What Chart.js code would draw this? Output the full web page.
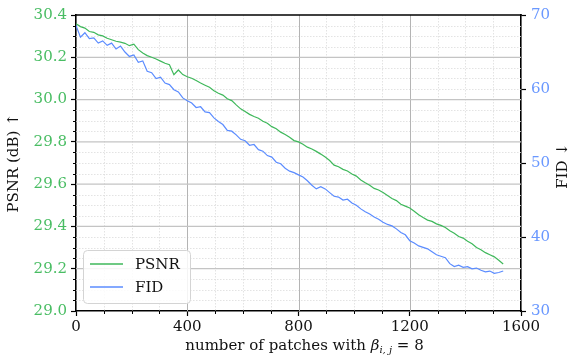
<!DOCTYPE html>
<html><head><meta charset="utf-8">
<script src="https://cdn.jsdelivr.net/npm/chart.js@4"></script>
<style>html,body{margin:0;padding:0;background:#fff}#wrap{width:571px;height:355px;position:relative}</style>
</head><body><div id="wrap"><canvas id="c" width="571" height="355"></canvas></div>
<script>
const patches = [
  0,16,32,48,64,80,96,112,
  128,144,160,176,192,208,224,240,
  256,272,288,304,320,336,352,368,
  384,400,416,432,448,464,480,496,
  512,528,544,560,576,592,608,624,
  640,656,672,688,704,720,736,752,
  768,784,800,816,832,848,864,880,
  896,912,928,944,960,976,992,1008,
  1024,1040,1056,1072,1088,1104,1120,1136,
  1152,1168,1184,1200,1216,1232,1248,1264,
  1280,1296,1312,1328,1344,1360,1376,1392,
  1408,1424,1440,1456,1472,1488,1504,1520,
  1536
];
const psnrValues = [
  30.358,30.345,30.338,30.322,30.318,30.306,30.301,30.290,
  30.283,30.276,30.272,30.266,30.255,30.262,30.236,30.220,
  30.208,30.200,30.192,30.182,30.172,30.165,30.118,30.140,
  30.118,30.108,30.101,30.090,30.078,30.068,30.058,30.042,
  30.030,30.021,30.004,29.995,29.975,29.956,29.944,29.930,
  29.920,29.912,29.897,29.888,29.872,29.862,29.846,29.835,
  29.822,29.806,29.800,29.789,29.775,29.766,29.755,29.742,
  29.728,29.712,29.690,29.682,29.670,29.662,29.648,29.638,
  29.620,29.607,29.595,29.580,29.572,29.560,29.546,29.532,
  29.522,29.505,29.496,29.487,29.472,29.455,29.442,29.430,
  29.424,29.412,29.405,29.395,29.380,29.368,29.352,29.345,
  29.330,29.318,29.300,29.290,29.276,29.266,29.256,29.240,
  29.222
];
const fidValues = [
  68.6,67.0,67.6,66.8,66.9,66.2,66.5,65.9,
  66.2,65.4,65.8,65.0,64.4,64.6,63.6,63.8,
  62.4,62.2,61.4,61.6,60.8,60.6,59.9,59.6,
  58.8,58.4,58.1,57.5,57.6,56.9,56.8,56.1,
  55.6,55.2,54.4,54.3,53.8,53.2,53.0,52.4,
  52.5,51.8,51.6,51.0,50.8,50.1,49.9,49.3,
  48.9,48.7,48.4,48.1,47.6,47.0,46.5,46.8,
  46.5,46.0,45.5,45.4,45.0,45.1,44.6,44.3,
  43.8,43.4,43.1,42.7,42.4,42.0,41.7,41.5,
  41.1,40.6,40.3,39.5,39.2,38.8,38.6,38.4,
  38.0,37.6,37.4,37.2,36.4,36.0,36.2,35.9,
  36.0,35.7,35.8,35.5,35.3,35.4,35.1,35.2,
  35.4
];
const xTicks = [0,400,800,1200,1600];
const xMinorTicks = [100,200,300,500,600,700,900,1000,1100,1300,1400,1500];
const psnrTicks = [29.0,29.2,29.4,29.6,29.8,30.0,30.2,30.4];
const psnrMinorTicks = [29.05,29.1,29.15,29.25,29.3,29.35,29.45,29.5,29.55,29.65,29.7,29.75,29.85,29.9,29.95,30.05,30.1,30.15,30.25,30.3,30.35];
const fidTicks = [30,40,50,60,70];
const seriesNames = ['PSNR','FID'];

const GREEN = '#3fb85b';
const BLUE = '#5b8cff';
const GREEN_TXT = '#49bd63';
const BLUE_TXT = '#6a98ff';
const SERIF = '"DejaVu Serif", serif';

const gridPlugin = {
  id: 'gridPlugin',
  beforeDatasetsDraw(chart) {
    const {ctx, chartArea: a, scales} = chart;
    const xs = scales.x, ys = scales.y;
    ctx.save();
    ctx.lineWidth = 0.8;
    ctx.strokeStyle = '#dcdcdc';
    ctx.setLineDash([1.5, 1.5]);
    xMinorTicks.forEach(v => {
      const p = Math.round(xs.getPixelForValue(v)) + 0.5;
      ctx.beginPath(); ctx.moveTo(p, a.top); ctx.lineTo(p, a.bottom); ctx.stroke();
    });
    psnrMinorTicks.forEach(v => {
      const p = Math.round(ys.getPixelForValue(v)) + 0.5;
      ctx.beginPath(); ctx.moveTo(a.left, p); ctx.lineTo(a.right, p); ctx.stroke();
    });
    ctx.setLineDash([]);
    ctx.strokeStyle = '#b4b4b4';
    ctx.lineWidth = 1;
    xTicks.forEach(v => {
      if (v === xTicks[0] || v === xTicks[xTicks.length-1]) return;
      const p = Math.round(xs.getPixelForValue(v)) + 0.5;
      ctx.beginPath(); ctx.moveTo(p, a.top); ctx.lineTo(p, a.bottom); ctx.stroke();
    });
    ctx.strokeStyle = '#c4c4c4';
    ctx.lineWidth = 1.3;
    psnrTicks.forEach(v => {
      if (v === psnrTicks[0] || v === psnrTicks[psnrTicks.length-1]) return;
      const p = ys.getPixelForValue(v);
      ctx.beginPath(); ctx.moveTo(a.left, p); ctx.lineTo(a.right, p); ctx.stroke();
    });
    ctx.restore();
  },
  afterDraw(chart) {
    const {ctx, chartArea: a, scales} = chart;
    const xs = scales.x, ys = scales.y;
    ctx.save();
    ctx.strokeStyle = '#000';
    ctx.lineWidth = 1;
    xMinorTicks.forEach(v => {
      const p = Math.round(xs.getPixelForValue(v)) + 0.5;
      ctx.beginPath(); ctx.moveTo(p, a.bottom); ctx.lineTo(p, a.bottom + 3); ctx.stroke();
    });
    psnrMinorTicks.forEach(v => {
      const p = Math.round(ys.getPixelForValue(v)) + 0.5;
      ctx.beginPath(); ctx.moveTo(a.left, p); ctx.lineTo(a.left - 3, p); ctx.stroke();
    });
    ctx.lineWidth = 1.6;
    ctx.beginPath(); ctx.moveTo(a.left - 0.8, a.top); ctx.lineTo(a.right + 0.8, a.top); ctx.stroke();

    const lx = a.left + 7, ly = a.bottom - 61, lw = 107, lh = 53, r = 4;
    ctx.fillStyle = 'rgba(255,255,255,0.85)';
    ctx.strokeStyle = '#d4d4d4';
    ctx.lineWidth = 1;
    ctx.beginPath();
    ctx.roundRect(lx + 0.5, ly + 0.5, lw, lh, r);
    ctx.fill(); ctx.stroke();
    ctx.font = '15px ' + SERIF;
    ctx.textBaseline = 'middle';
    ctx.textAlign = 'left';
    chart.data.datasets.forEach((ds, i) => {
      const yy = ly + 14 + i * 23;
      ctx.strokeStyle = ds.borderColor;
      ctx.lineWidth = 1.3;
      ctx.beginPath(); ctx.moveTo(lx + 7, yy); ctx.lineTo(lx + 40, yy); ctx.stroke();
      ctx.fillStyle = '#111';
      ctx.fillText(ds.label, lx + 52, yy + 1);
    });

    ctx.save();
    ctx.translate(563, (a.top + a.bottom) / 2 + 3);
    ctx.rotate(-Math.PI / 2);
    ctx.textAlign = 'center';
    ctx.textBaseline = 'middle';
    ctx.fillStyle = '#111';
    ctx.font = '15px ' + SERIF;
    ctx.fillText('FID \u2193', 0, 0);
    ctx.restore();

    const parts = [
      {t: 'number of patches with ', f: '15px ' + SERIF, dy: 0},
      {t: '\u03b2', f: 'italic 15px ' + SERIF, dy: 0},
      {t: 'i, j', f: 'italic 10px ' + SERIF, dy: 3},
      {t: ' = 8', f: '15px ' + SERIF, dy: 0}
    ];
    let total = 0;
    parts.forEach(p => { ctx.font = p.f; p.w = ctx.measureText(p.t).width; total += p.w; });
    let cx = (a.left + a.right) / 2 - total / 2 + 6;
    ctx.textAlign = 'left';
    ctx.textBaseline = 'alphabetic';
    ctx.fillStyle = '#111';
    parts.forEach(p => { ctx.font = p.f; ctx.fillText(p.t, cx, 350 + p.dy); cx += p.w; });
    ctx.restore();
  }
};

const ctx = document.getElementById('c').getContext('2d');
new Chart(ctx, {
  type: 'line',
  data: {
    datasets: [
      {label: seriesNames[0], data: patches.map((x, i) => ({x, y: psnrValues[i]})), yAxisID: 'y',
       borderColor: GREEN, backgroundColor: GREEN, borderWidth: 1.2, pointRadius: 0, tension: 0, fill: false},
      {label: seriesNames[1], data: patches.map((x, i) => ({x, y: fidValues[i]})), yAxisID: 'y1',
       borderColor: BLUE, backgroundColor: BLUE, borderWidth: 1.2, pointRadius: 0, tension: 0, fill: false}
    ]
  },
  options: {
    responsive: false,
    animation: false,
    devicePixelRatio: 1,
    layout: {padding: {top: 15, left: 0, right: 0, bottom: 0}},
    plugins: {legend: {display: false}, tooltip: {enabled: false}},
    scales: {
      x: {
        type: 'linear', min: 0, max: 1600,
        afterBuildTicks: s => { s.ticks = xTicks.map(v => ({value: v})); },
        ticks: {color: '#111', font: {family: SERIF, size: 15}, padding: 2, maxRotation: 0, autoSkip: false,
                callback: v => String(v)},
        grid: {display: true, drawOnChartArea: false, drawTicks: true, tickLength: 5, tickColor: '#000', tickWidth: 1.2},
        border: {display: true, color: '#000', width: 1.6},
        afterFit: s => { s.height = 44; }
      },
      y: {
        type: 'linear', position: 'left', min: 29.0, max: 30.4,
        afterBuildTicks: s => { s.ticks = psnrTicks.map(v => ({value: v})); },
        ticks: {color: GREEN_TXT, font: {family: SERIF, size: 15}, padding: 4, autoSkip: false,
                callback: v => Number(v).toFixed(1)},
        grid: {display: true, drawOnChartArea: false, drawTicks: true, tickLength: 5, tickColor: '#000', tickWidth: 1.2},
        border: {display: true, color: '#000', width: 1.6},
        title: {display: true, text: 'PSNR (dB) \u2191', color: '#111', font: {family: SERIF, size: 15}, padding: {top: 5, bottom: 0}},
        afterFit: s => { s.width = 76; }
      },
      y1: {
        type: 'linear', position: 'right', min: 30, max: 70,
        afterBuildTicks: s => { s.ticks = fidTicks.map(v => ({value: v})); },
        ticks: {color: BLUE_TXT, font: {family: SERIF, size: 15}, padding: 5, autoSkip: false},
        grid: {display: true, drawOnChartArea: false, drawTicks: true, tickLength: 5, tickColor: '#000', tickWidth: 1.2},
        border: {display: true, color: '#000', width: 1.6},
        afterFit: s => { s.width = 50; }
      }
    }
  },
  plugins: [gridPlugin]
});
</script>
</body></html>
